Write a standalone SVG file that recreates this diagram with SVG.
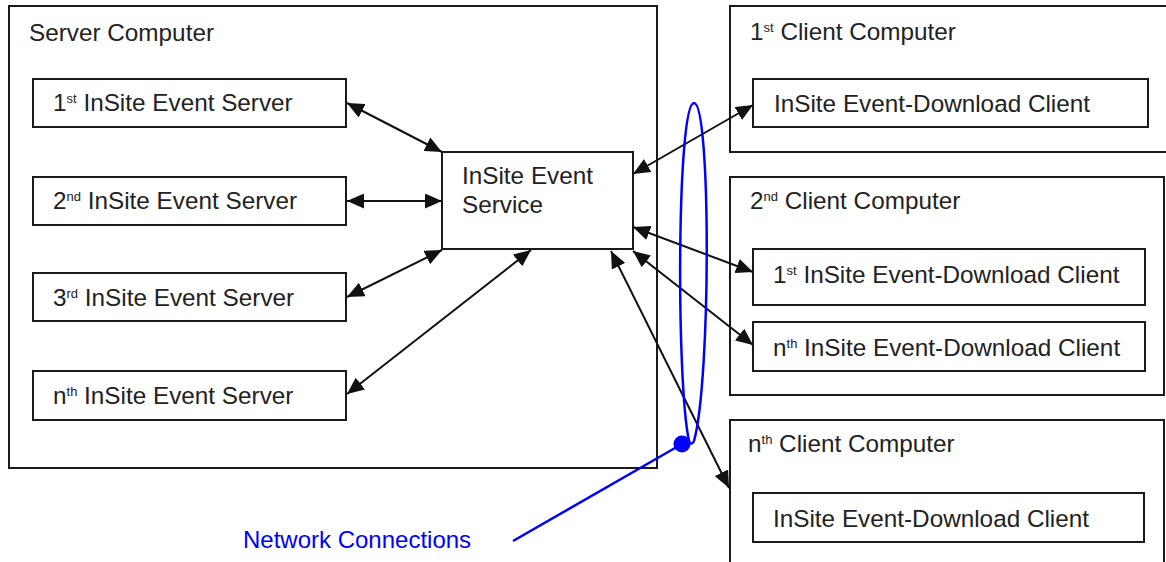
<svg xmlns="http://www.w3.org/2000/svg" width="1166" height="562" viewBox="0 0 1166 562">
<style>
.box{fill:#fff;stroke:#1a1a1a;stroke-width:2}
.t{font-family:"Liberation Sans",Arial,sans-serif;font-size:24.3px;fill:#222}
.sup{font-size:13px}
.c{stroke:#111;stroke-width:2;fill:none;marker-start:url(#ah);marker-end:url(#ah)}
.blue{stroke:#0000ff;stroke-width:2.5;fill:none}
.bt{font-family:"Liberation Sans",Arial,sans-serif;font-size:24px;fill:#0000ff}
</style>
<defs>
<marker id="ah" viewBox="0 0 17 15" refX="17" refY="7.5" markerWidth="17" markerHeight="15" markerUnits="userSpaceOnUse" orient="auto-start-reverse">
<path d="M0,0 L17,7.5 L0,15 z" fill="#111"/>
</marker>
</defs>
<rect width="1166" height="562" fill="#fff"/>

<g id="server-computer">
<rect class="box" x="9" y="6" width="648" height="462"/>
<text class="t" x="29" y="41">Server Computer</text>
</g>
<g id="event-server-1">
<rect class="box" x="33" y="79" width="313" height="48"/>
<text class="t" x="53" y="111">1<tspan class="sup" dy="-8">st</tspan><tspan dy="8"> InSite Event Server</tspan></text>
</g>
<g id="event-server-2">
<rect class="box" x="33" y="177" width="313" height="48"/>
<text class="t" x="53" y="209">2<tspan class="sup" dy="-8">nd</tspan><tspan dy="8"> InSite Event Server</tspan></text>
</g>
<g id="event-server-3">
<rect class="box" x="33" y="273" width="313" height="48"/>
<text class="t" x="53" y="306">3<tspan class="sup" dy="-8">rd</tspan><tspan dy="8"> InSite Event Server</tspan></text>
</g>
<g id="event-server-n">
<rect class="box" x="33" y="371" width="313" height="49"/>
<text class="t" x="53" y="404">n<tspan class="sup" dy="-8">th</tspan><tspan dy="8"> InSite Event Server</tspan></text>
</g>
<g id="event-service">
<rect class="box" x="442" y="152" width="191" height="97"/>
<text class="t" x="462" y="184">InSite Event</text>
<text class="t" x="462" y="213">Service</text>
</g>

<g id="client-computer-1">
<rect class="box" x="730" y="6" width="440" height="146"/>
<text class="t" x="750" y="40">1<tspan class="sup" dy="-8">st</tspan><tspan dy="8"> Client Computer</tspan></text>
</g>
<g id="client-1-download">
<rect class="box" x="753" y="79" width="395" height="48"/>
<text class="t" x="774" y="112">InSite Event-Download Client</text>
</g>
<g id="client-computer-2">
<rect class="box" x="730" y="177" width="434" height="218"/>
<text class="t" x="750" y="209">2<tspan class="sup" dy="-8">nd</tspan><tspan dy="8"> Client Computer</tspan></text>
</g>
<g id="client-2-download-1">
<rect class="box" x="753" y="249" width="392" height="56"/>
<text class="t" x="773" y="283">1<tspan class="sup" dy="-8">st</tspan><tspan dy="8"> InSite Event-Download Client</tspan></text>
</g>
<g id="client-2-download-n">
<rect class="box" x="753" y="322" width="392" height="49"/>
<text class="t" x="773" y="356">n<tspan class="sup" dy="-8">th</tspan><tspan dy="8"> InSite Event-Download Client</tspan></text>
</g>
<g id="client-computer-n">
<rect class="box" x="730" y="420" width="434" height="160"/>
<text class="t" x="748" y="452">n<tspan class="sup" dy="-8">th</tspan><tspan dy="8"> Client Computer</tspan></text>
</g>
<g id="client-n-download">
<rect class="box" x="753" y="493" width="391" height="49"/>
<text class="t" x="773" y="527">InSite Event-Download Client</text>
</g>

<g id="connectors">
<line class="c" x1="347" y1="103" x2="442" y2="152"/>
<line class="c" x1="347" y1="201" x2="442" y2="201"/>
<line class="c" x1="347" y1="297" x2="442" y2="250"/>
<line class="c" x1="347" y1="394" x2="531" y2="250"/>
<line class="c" x1="633" y1="174" x2="753" y2="105"/>
<line class="c" x1="633" y1="227" x2="753" y2="272"/>
<line class="c" x1="633" y1="251" x2="753" y2="345"/>
<line class="c" x1="611" y1="251" x2="729" y2="488"/>
<path class="blue" d="M689 441 C676 380, 677 103, 694 103 C711 103, 711 380, 694 441 C692 445, 690 444, 689 441"/>
<line class="blue" x1="682" y1="444" x2="513" y2="541"/>
<circle cx="682" cy="444" r="8.5" fill="#0000ff"/>
<text class="bt" x="243" y="548">Network Connections</text>
</g>
</svg>
